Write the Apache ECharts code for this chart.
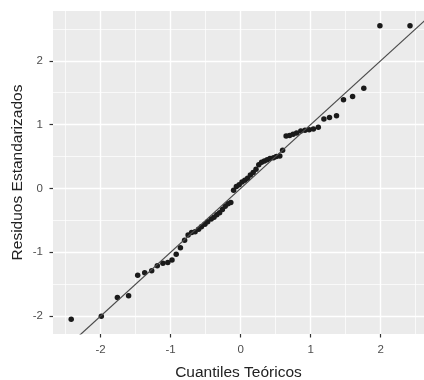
<!DOCTYPE html>
<html>
<head>
<meta charset="utf-8">
<script src="https://cdn.jsdelivr.net/npm/echarts@6/dist/echarts.min.js"></script>
<style>
  html, body { margin: 0; padding: 0; background: #fff; }
  #chart { width: 424px; height: 380px; }
</style>
</head>
<body>
<div id="chart"></div>
<script>
// cuantiles teoricos (eje x) y residuos estandarizados (eje y)
var theoQ = [-2.42, -1.99, -1.76, -1.60, -1.47, -1.37, -1.27, -1.19, -1.11, -1.04, -0.98, -0.92,
    -0.86, -0.80, -0.75, -0.70, -0.65, -0.60, -0.56, -0.51, -0.47, -0.42, -0.38, -0.34,
    -0.30, -0.26, -0.22, -0.18, -0.14, -0.10, -0.06, -0.02,
    0.02, 0.06, 0.10, 0.14, 0.18, 0.22, 0.26, 0.30, 0.34, 0.38, 0.42, 0.47,
    0.51, 0.56, 0.60, 0.65, 0.70, 0.75, 0.80, 0.86, 0.92, 0.98, 1.04, 1.11,
    1.19, 1.27, 1.37, 1.47, 1.60, 1.76, 1.99, 2.42];
var resid = [-2.05, -2.00, -1.71, -1.68, -1.36, -1.32, -1.29, -1.21, -1.17, -1.16, -1.12, -1.03,
    -0.93, -0.81, -0.73, -0.69, -0.68, -0.64, -0.60, -0.56, -0.52, -0.48, -0.45, -0.41,
    -0.38, -0.33, -0.28, -0.24, -0.22, -0.03, 0.03, 0.06,
    0.10, 0.13, 0.16, 0.21, 0.25, 0.30, 0.37, 0.41, 0.43, 0.45, 0.47, 0.48,
    0.50, 0.51, 0.60, 0.82, 0.83, 0.85, 0.87, 0.90, 0.91, 0.92, 0.93, 0.96,
    1.09, 1.11, 1.14, 1.39, 1.44, 1.57, 2.55, 2.55];

// recta de referencia (qqline)
var lineX = [-2.8, 2.8];
var lineY = [-2.8, 2.8];

var xTicks = [-2, -1, 0, 1, 2];
var yTicks = [-2, -1, 0, 1, 2];
var xMinor = [-2.5, -1.5, -0.5, 0.5, 1.5, 2.5];
var yMinor = [-1.5, -0.5, 0.5, 1.5, 2.5];

var mychart = echarts.init(document.getElementById('chart'));

var points = theoQ.map(function (x, i) { return [x, resid[i]]; });
var refLine = lineX.map(function (x, i) { return [x, lineY[i]]; });

// cuadricula estilo ggplot: lineas blancas, menores mas finas
var gridLines = [];
xMinor.forEach(function (v) { gridLines.push({ xAxis: v, lineStyle: { width: 0.7 } }); });
yMinor.forEach(function (v) { gridLines.push({ yAxis: v, lineStyle: { width: 0.7 } }); });
xTicks.forEach(function (v) { gridLines.push({ xAxis: v, lineStyle: { width: 1.4 } }); });
yTicks.forEach(function (v) { gridLines.push({ yAxis: v, lineStyle: { width: 1.4 } }); });

var fontName = '"Liberation Sans", Arial, sans-serif';

var option = {
    animation: false,
    backgroundColor: '#ffffff',
    grid: {
        left: 53,
        right: 0,
        top: 11,
        bottom: 46,
        outerBoundsMode: 'none',
        containLabel: false,
        show: true,
        backgroundColor: '#EBEBEB',
        borderWidth: 0
    },
    xAxis: {
        type: 'value',
        min: -2.68,
        max: 2.62,
        name: 'Cuantiles Teóricos',
        nameLocation: 'middle',
        nameGap: 31,
        nameMoveOverlap: false,
        nameTextStyle: { color: '#222', fontSize: 15.5, fontFamily: fontName },
        axisLine: { show: true, onZero: false, lineStyle: { color: 'rgba(0,0,0,0)' } },
        axisTick: {
            show: true, length: 3.5, customValues: xTicks,
            lineStyle: { color: '#333', width: 1.2 }
        },
        axisLabel: {
            customValues: xTicks, color: '#4D4D4D', fontSize: 11.5, margin: 10,
            fontFamily: fontName
        },
        splitLine: { show: false }
    },
    yAxis: {
        type: 'value',
        min: -2.28,
        max: 2.78,
        name: 'Residuos Estandarizados',
        nameLocation: 'middle',
        nameGap: 27,
        nameMoveOverlap: false,
        nameTextStyle: { color: '#222', fontSize: 15.5, fontFamily: fontName },
        axisLine: { show: true, onZero: false, lineStyle: { color: 'rgba(0,0,0,0)' } },
        axisTick: {
            show: true, length: 3.5, customValues: yTicks,
            lineStyle: { color: '#333', width: 1.2 }
        },
        axisLabel: {
            customValues: yTicks, color: '#4D4D4D', fontSize: 11.5, margin: 10,
            fontFamily: fontName
        },
        splitLine: { show: false }
    },
    series: [
        {
            type: 'line',
            data: [],
            silent: true,
            markLine: {
                silent: true,
                symbol: 'none',
                label: { show: false },
                lineStyle: { color: '#ffffff', type: 'solid' },
                data: gridLines
            }
        },
        {
            name: 'residuos',
            type: 'scatter',
            z: 10,
            data: points,
            symbolSize: 5.5,
            itemStyle: { color: '#1a1a1a', opacity: 1 }
        },
        {
            name: 'qqline',
            type: 'line',
            z: 11,
            data: refLine,
            showSymbol: false,
            clip: true,
            lineStyle: { color: '#4a4a4a', width: 1.2 }
        }
    ]
};

mychart.setOption(option);
</script>
</body>
</html>
